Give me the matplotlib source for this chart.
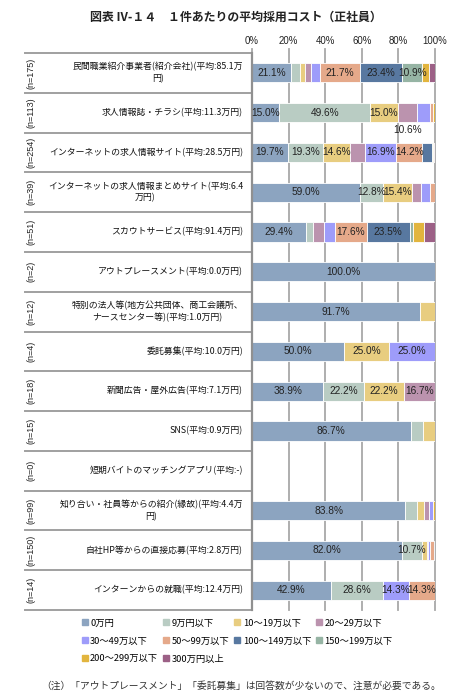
import matplotlib
matplotlib.use("Agg")
import matplotlib.pyplot as plt
from matplotlib.lines import Line2D
import numpy as np

plt.rcParams['font.family'] = ['Noto Sans CJK JP', 'DejaVu Sans']

categories = [
    "民間職業紹介事業者(紹介会社)(平均:85.1万\n円)",
    "求人情報誌・チラシ(平均:11.3万円)",
    "インターネットの求人情報サイト(平均:28.5万円)",
    "インターネットの求人情報まとめサイト(平均:6.4\n万円)",
    "スカウトサービス(平均:91.4万円)",
    "アウトプレースメント(平均:0.0万円)",
    "特別の法人等(地方公共団体、商工会議所、\nナースセンター等)(平均:1.0万円)",
    "委託募集(平均:10.0万円)",
    "新聞広告・屋外広告(平均:7.1万円)",
    "SNS(平均:0.9万円)",
    "短期バイトのマッチングアプリ(平均:-)",
    "知り合い・社員等からの紹介(縁故)(平均:4.4万\n円)",
    "自社HP等からの直接応募(平均:2.8万円)",
    "インターンからの就職(平均:12.4万円)",
]
n_labels = ["(n=175)", "(n=113)", "(n=254)", "(n=39)", "(n=51)", "(n=2)", "(n=12)",
            "(n=4)", "(n=18)", "(n=15)", "(n=0)", "(n=99)", "(n=150)", "(n=14)"]

series_names = ["0万円", "9万円以下", "10〜19万以下", "20〜29万以下", "30〜49万以下",
                "50〜99万以下", "100〜149万以下", "150〜199万以下", "200〜299万以下", "300万円以上"]

# rows: categories; columns: series (percent)
values = np.array([
    [21.1, 5.1, 2.9, 3.4, 4.6, 21.7, 23.4, 10.9, 3.4, 3.4],
    [15.0, 49.6, 15.0, 10.6, 7.1, 1.8, 0.0, 0.0, 0.9, 0.0],
    [19.7, 19.3, 14.6, 8.3, 16.9, 14.2, 5.1, 0.8, 0.8, 0.4],
    [59.0, 12.8, 15.4, 5.1, 5.1, 2.6, 0.0, 0.0, 0.0, 0.0],
    [29.4, 3.9, 0.0, 5.9, 5.9, 17.6, 23.5, 2.0, 5.9, 5.9],
    [100.0, 0, 0, 0, 0, 0, 0, 0, 0, 0],
    [91.7, 0.0, 8.3, 0, 0, 0, 0, 0, 0, 0],
    [50.0, 0.0, 25.0, 0.0, 25.0, 0, 0, 0, 0, 0],
    [38.9, 22.2, 22.2, 16.7, 0, 0, 0, 0, 0, 0],
    [86.7, 6.7, 6.7, 0, 0, 0, 0, 0, 0, 0],
    [0, 0, 0, 0, 0, 0, 0, 0, 0, 0],
    [83.8, 6.1, 4.0, 3.0, 2.0, 0.0, 0.0, 0.0, 1.0, 0.0],
    [82.0, 10.7, 2.7, 0.7, 1.3, 2.0, 0.7, 0.0, 0.0, 0.0],
    [42.9, 28.6, 0.0, 0.0, 14.3, 14.3, 0, 0, 0, 0],
])

colors = ["#8CA4C0", "#B9CCC3", "#E8CD80", "#BB93AE", "#9E9CFA",
          "#E5A98A", "#5878A0", "#96B4A4", "#E2B53E", "#9C6086"]

x_ticks = [0, 20, 40, 60, 80, 100]
x_ticklabels = ["0%", "20%", "40%", "60%", "80%", "100%"]

W, H = 475, 697
fig = plt.figure(figsize=(W / 100, H / 100), dpi=100)
ax = fig.add_axes([252 / W, 1 - 610 / H, 183 / W, (610 - 53) / H])

nrow = len(categories)
y = np.arange(nrow)
left = np.zeros(nrow)
bar_h = 0.48
grid_c = "#A8A8A8"

for j in range(len(series_names)):
    ax.barh(y, values[:, j], left=left, height=bar_h, color=colors[j],
            edgecolor="white", linewidth=0.6, zorder=3)
    for i in range(nrow):
        v = values[i, j]
        if v >= 10:
            cx = left[i] + v / 2
            cy = y[i]
            if i == 1 and j == 3:
                cy = y[i] + 0.44
            ax.text(cx, cy, f"{v:.1f}%", ha="center", va="center", fontsize=7.3,
                    family=["Liberation Sans", "DejaVu Sans"], color="#222222", zorder=5)
    left = left + values[:, j]

ax.set_xlim(0, 100)
ax.set_ylim(nrow - 0.5, -0.5)
for xt in x_ticks:
    ax.plot([xt, xt], [-0.6, nrow - 0.5], color=grid_c, lw=1.3, zorder=1, clip_on=False)
ax.set_xticks(x_ticks)
ax.set_xticklabels(x_ticklabels, family=["Liberation Sans", "DejaVu Sans"], fontsize=6.9,
                   color="#222222")
ax.xaxis.tick_top()
ax.tick_params(axis="x", length=0, pad=5)
ax.set_yticks([])
for s in ax.spines.values():
    s.set_visible(False)
# axis line at 0
ax.plot([0, 0], [-0.5, nrow - 0.5], color="#909090", lw=1.6, zorder=4, clip_on=False)

# label area lines and texts
tr = ax.get_yaxis_transform()
x_left = (25 - 252) / 183
for b in np.arange(-0.5, nrow, 1.0):
    ax.plot([x_left, 0], [b, b], color="#A0A0A0", lw=1.4, transform=tr, clip_on=False)

for i in range(nrow):
    ax.text(-9 / 183, y[i], categories[i], transform=tr, ha="right", va="center",
            multialignment="center", fontsize=6.4, color="#111111", linespacing=1.35)
    ax.text((31 - 252) / 183, y[i], n_labels[i], transform=tr, ha="center", va="center",
            rotation=90, fontsize=6.5, family=["Liberation Sans", "DejaVu Sans"], color="#222222")

# title
fig.text(236 / W, 1 - 17 / H, "図表 IV-１４　１件あたりの平均採用コスト（正社員）",
         ha="center", va="center", fontsize=8.6, fontweight="bold", color="#222222")

# legend (row-major order)
handles = [Line2D([0], [0], marker="s", linestyle="none", markersize=4,
                  markerfacecolor=c, markeredgecolor=c) for c in colors]
order = [0, 4, 8, 1, 5, 9, 2, 6, 3, 7]
fig.legend([handles[k] for k in order], [series_names[k] for k in order],
           loc="upper left", bbox_to_anchor=(78 / W, 1 - 615 / H), ncol=4,
           frameon=False, fontsize=6.7, handlelength=0.6, handletextpad=0.3,
           columnspacing=0.55, labelspacing=0.95, borderaxespad=0)

fig.text(241 / W, 1 - 686 / H,
         "（注）「アウトプレースメント」「委託募集」は回答数が少ないので、注意が必要である。",
         ha="center", va="center", fontsize=7.0, color="#333333")

fig.savefig("out.png", dpi=100)
